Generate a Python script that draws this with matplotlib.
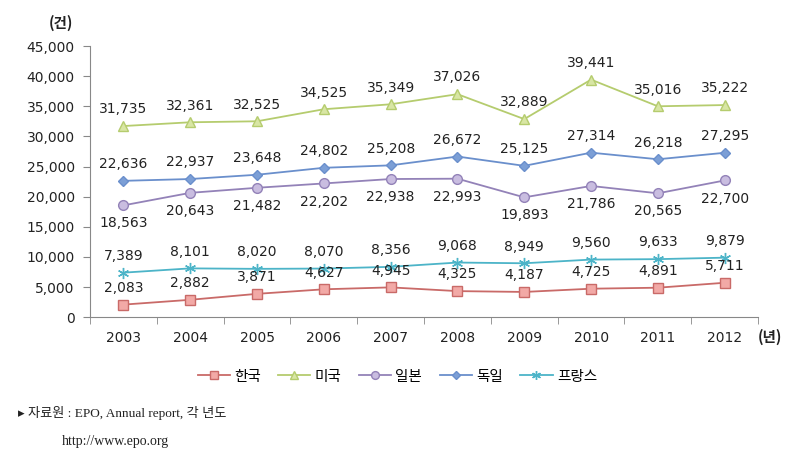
import numpy as np
import matplotlib.pyplot as plt

plt.rcParams['font.family'] = ['Noto Sans CJK KR', 'DejaVu Sans']

years = [2003, 2004, 2005, 2006, 2007, 2008, 2009, 2010, 2011, 2012]
korea = [2083, 2882, 3871, 4627, 4945, 4325, 4187, 4725, 4891, 5711]
usa = [31735, 32361, 32525, 34525, 35349, 37026, 32889, 39441, 35016, 35222]
japan = [18563, 20643, 21482, 22202, 22938, 22993, 19893, 21786, 20565, 22700]
germany = [22636, 22937, 23648, 24802, 25208, 26672, 25125, 27314, 26218, 27295]
france = [7389, 8101, 8020, 8070, 8356, 9068, 8949, 9560, 9633, 9879]

names = ['한국', '미국', '일본', '독일', '프랑스']

fig = plt.figure(figsize=(7.86, 4.57), dpi=100)
ax = fig.add_axes([0.1145, 0.306, 0.85, 0.593])

x = np.arange(len(years))

# (values, line colour, marker, marker face, marker size, label offset in points)
styles = [
    (korea, '#c96a68', 's', '#f2a9a6', 6.5, 7),
    (usa, '#b5cc6e', '^', '#d8e6a4', 7, 7),
    (japan, '#9382b8', 'o', '#c9bde0', 7, -8),
    (germany, '#6a8fcc', 'D', '#7c9fd6', 5, 7),
    (france, '#4cb4c8', (6, 2, 0), '#4cb4c8', 8, 7),
]

for (vals, col, mk, fc, ms, off), name in zip(styles, names):
    ax.plot(x, vals, color=col, lw=1.3, marker=mk, markersize=ms,
            markerfacecolor=fc, markeredgecolor=col, markeredgewidth=1,
            label=name)
    for xi, v in zip(x, vals):
        ax.annotate(f'{v:,}', (xi, v), xytext=(0, off), textcoords='offset points',
                    ha='center', va='bottom' if off > 0 else 'top', fontsize=10,
                    color='#222222', family=['DejaVu Sans'])

ax.set_ylim(0, 45000)
ax.set_yticks(np.arange(0, 45001, 5000))
ax.set_yticklabels([f'{v:,}' for v in range(0, 45001, 5000)], family=['DejaVu Sans'])
ax.set_xlim(-0.5, len(years) - 0.5)
ax.set_xticks(x)
ax.set_xticklabels([str(y) for y in years], family=['DejaVu Sans'])
ax.set_xticks(np.arange(-0.5, len(years), 1), minor=True)
ax.tick_params(axis='x', which='major', length=0, pad=10)
ax.tick_params(axis='x', which='minor', length=5, color='#888888')
ax.tick_params(axis='y', length=5, color='#888888', pad=6)
ax.tick_params(labelsize=10, labelcolor='#222222')

for s in ['top', 'right']:
    ax.spines[s].set_visible(False)
for s in ['left', 'bottom']:
    ax.spines[s].set_color('#888888')

fig.text(0.077, 0.95, '(건)', fontsize=10.5, ha='center', va='center', weight='bold', color='#222222')
fig.text(0.98, 0.262, '(년)', fontsize=10.5, ha='center', va='center', weight='bold', color='#222222')

ax.legend(loc='upper center', bbox_to_anchor=(0.46, -0.145), ncol=5, frameon=False,
          fontsize=10.5, handlelength=2.2, columnspacing=1.2, handletextpad=0.3,
          markerscale=0.8)

fig.text(0.023, 0.097, '▸ 자료원 : EPO, Annual report, 각 년도', fontsize=9.5,
         family=['Liberation Serif', 'Noto Sans CJK KR', 'DejaVu Sans'], va='center', color='#222222')
fig.text(0.079, 0.035, 'http://www.epo.org', fontsize=10,
         family=['Liberation Serif'], va='center', color='#222222')

plt.savefig('out.png', dpi=100)
